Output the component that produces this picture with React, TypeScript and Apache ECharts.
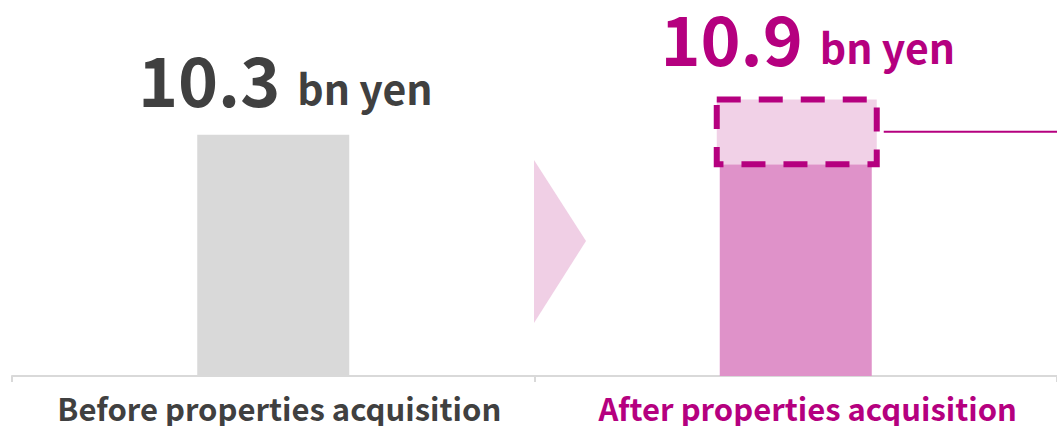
import React, { useEffect, useRef } from "react";
import * as echarts from "echarts";

const categories = ["Before properties acquisition", "After properties acquisition"];
const totals = [10.3, 10.9];
const baseValues = [10.3, 9.8];
const increment = [[1, 9.8, 10.9]];
const unitLabel = "bn yen";

const FONT = '"Noto Sans CJK JP", "Noto Sans", sans-serif';
const GRAY_TEXT = "#404040";
const MAGENTA = "#b5007f";

export default function App() {
  const ref = useRef<HTMLDivElement>(null);
  useEffect(() => {
    if (!ref.current) return;
    const chart = echarts.init(ref.current, undefined, { renderer: "svg" });
    const numStyle = { fontSize: 68, fontWeight: "bold", fontFamily: FONT, lineHeight: 60 };
    const unitStyle = {
      fontSize: 41,
      fontWeight: "bold",
      fontFamily: FONT,
      verticalAlign: "bottom",
      lineHeight: 58,
      padding: [0, 0, 0, 17],
    };
    chart.setOption({
      animation: false,
      grid: { left: 12, right: -7, top: 23, bottom: 50 },
      xAxis: {
        type: "category",
        data: categories,
        axisLine: { lineStyle: { color: "#d9d9d9", width: 2 } },
        axisTick: { show: true, length: 6, lineStyle: { color: "#d9d9d9", width: 2 } },
        axisLabel: {
          margin: 16,
          formatter: (v: string, i: number) => `{${i === 0 ? "g" : "m"}|${v}}`,
          rich: {
            g: { color: GRAY_TEXT, fontSize: 31, lineHeight: 30, fontWeight: "bold", fontFamily: FONT, padding: [0, 0, 0, 12] },
            m: { color: MAGENTA, fontSize: 31, lineHeight: 30, fontWeight: "bold", fontFamily: FONT, padding: [0, 0, 0, 24] },
          },
        },
      },
      yAxis: { type: "value", min: 6.2, max: 12.2, show: false, splitLine: { show: false } },
      graphic: [
        {
          type: "polygon",
          shape: { points: [[534, 160], [586, 241], [534, 323]] },
          style: { fill: "#f0cfe5" },
          silent: true,
        },
      ],
      series: [
        {
          type: "bar",
          barWidth: 152,
          data: baseValues.map((v, i) => ({
            value: v,
            itemStyle: { color: i === 0 ? "#d9d9d9" : "#df92c9" },
          })),
        },
        {
          type: "custom",
          data: increment,
          z: 3,
          renderItem: (params: any, api: any) => {
            const top = api.coord([api.value(0), api.value(2)]);
            const bot = api.coord([api.value(0), api.value(1)]);
            const w = 160;
            const x0 = top[0] - w / 2 + 1;
            const mid = (top[1] + bot[1]) / 2;
            return {
              type: "group",
              children: [
                {
                  type: "rect",
                  shape: { x: x0, y: top[1], width: w, height: bot[1] - top[1] },
                  style: { fill: "#f1d1e7", stroke: MAGENTA, lineWidth: 6, lineDash: [24, 18] },
                },
                {
                  type: "line",
                  shape: { x1: x0 + w + 7, y1: mid, x2: api.getWidth(), y2: mid },
                  style: { stroke: MAGENTA, lineWidth: 2 },
                },
              ],
            };
          },
        },
        {
          type: "scatter",
          symbolSize: 0,
          z: 4,
          itemStyle: { opacity: 1 },
          data: totals.map((v, i) => ({
            value: [i, v],
            label: { distance: i === 0 ? 27 : 33 },
          })),
          label: {
            show: true,
            position: "top",
            offset: [12, 0],
            opacity: 1,
            formatter: (p: any) => {
              const k = p.dataIndex === 0 ? "g" : "m";
              return `{${k}a|${totals[p.dataIndex]}}{${k}b|${unitLabel}}`;
            },
            rich: {
              ga: { ...numStyle, color: GRAY_TEXT },
              gb: { ...unitStyle, color: GRAY_TEXT },
              ma: { ...numStyle, color: MAGENTA },
              mb: { ...unitStyle, color: MAGENTA },
            },
          },
        },
      ],
    });
    return () => chart.dispose();
  }, []);
  return <div ref={ref} style={{ width: 1057, height: 426, position: "absolute", left: 0, top: 0 }} />;
}
